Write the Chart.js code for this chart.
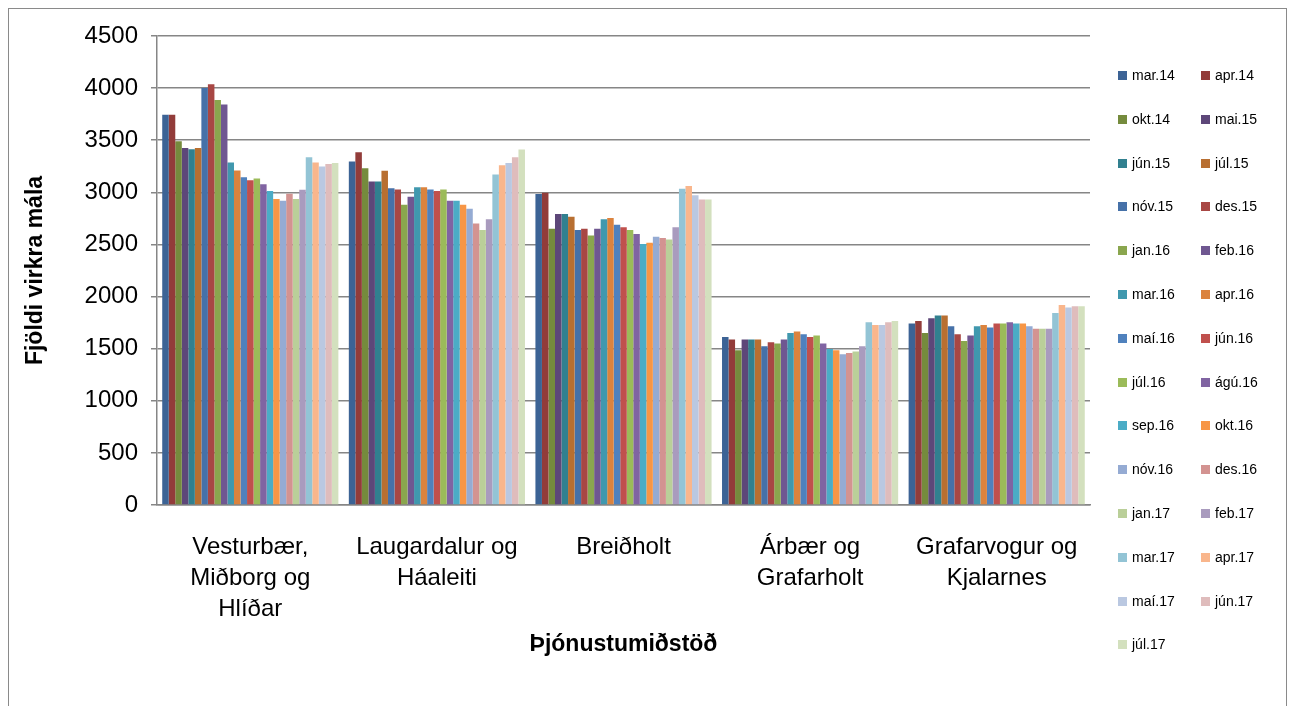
<!DOCTYPE html>
<html>
<head>
<meta charset="utf-8">
<script src="https://cdn.jsdelivr.net/npm/chart.js@4/dist/chart.umd.min.js"></script>
<style>
  body { margin: 0; background: #fff; }
  #wrap { position: relative; width: 1290px; height: 706px; overflow: hidden; }
  #frame { position: absolute; left: 8px; top: 8px; width: 1279px; height: 720px; border: 1px solid #8a8a8a; box-sizing: border-box; }
  canvas { position: absolute; left: 0; top: 0; }
  .item { position: absolute; font: 14px "Liberation Sans", Arial, sans-serif; color: #000; white-space: nowrap; line-height: 16px; }
  .item span { display: inline-block; width: 9px; height: 9px; margin-right: 5px; vertical-align: 0px; }
</style>
</head>
<body>
<div id="wrap">
  <div id="frame"></div>
  <canvas id="chart" width="1290" height="706"></canvas>
  <div id="legend"></div>
</div>
<script>
// categories (x axis)
const categories = [
  ["Vesturbær,", "Miðborg og", "Hlíðar"],
  ["Laugardalur og", "Háaleiti"],
  ["Breiðholt"],
  ["Árbær og", "Grafarholt"],
  ["Grafarvogur og", "Kjalarnes"]
];

// one series per month
const months = ["mar.14", "apr.14", "okt.14", "mai.15", "jún.15", "júl.15", "nóv.15", "des.15",
  "jan.16", "feb.16", "mar.16", "apr.16", "maí.16", "jún.16", "júl.16", "ágú.16", "sep.16",
  "okt.16", "nóv.16", "des.16", "jan.17", "feb.17", "mar.17", "apr.17", "maí.17", "jún.17", "júl.17"];

// values per area, in month order
const vesturbaer = [3744, 3744, 3490, 3426, 3414, 3426, 4000, 4038, 3885, 3843, 3286, 3209, 3145, 3116,
  3132, 3077, 3013, 2936, 2920, 2987, 2936, 3025, 3337, 3286, 3247, 3273, 3282];
const laugardalur = [3295, 3385, 3231, 3103, 3103, 3206, 3039, 3026, 2882, 2958, 3048, 3048, 3026, 3013,
  3026, 2920, 2920, 2882, 2843, 2702, 2638, 2741, 3170, 3260, 3282, 3337, 3410];
const breidholt = [2984, 2997, 2651, 2792, 2792, 2766, 2638, 2651, 2587, 2651, 2741, 2754, 2690, 2664,
  2638, 2600, 2504, 2517, 2574, 2561, 2548, 2664, 3035, 3061, 2971, 2932, 2932];
const arbaer = [1613, 1587, 1485, 1587, 1587, 1587, 1523, 1561, 1549, 1587, 1651, 1664, 1638, 1613,
  1626, 1549, 1497, 1485, 1446, 1459, 1472, 1523, 1754, 1728, 1728, 1754, 1766];
const grafarvogur = [1741, 1766, 1651, 1792, 1818, 1818, 1715, 1638, 1574, 1626, 1715, 1728, 1702, 1741,
  1741, 1754, 1741, 1741, 1715, 1690, 1690, 1690, 1843, 1920, 1894, 1907, 1907];

const colors = ["#3c6395", "#923c3a", "#758b3d", "#5d4779", "#31808f", "#b86f31",
  "#4671a8", "#a84744", "#8aa64e", "#6f5791", "#4098ae", "#db833e",
  "#4f81bd", "#c0504d", "#9bbb59", "#8064a2", "#4bacc6", "#f79646",
  "#95abd3", "#d39391", "#bacf99", "#a99bbe", "#93c4d5", "#f9b68c",
  "#bac8e1", "#dfbcbc", "#d3e0be"];

const areas = [vesturbaer, laugardalur, breidholt, arbaer, grafarvogur];

const datasets = months.map((m, i) => ({
  label: m,
  data: areas.map(a => a[i]),
  backgroundColor: colors[i],
  borderWidth: 0
}));

const font = { family: "'Liberation Sans', Arial, sans-serif", size: 24 };

const chart = new Chart(document.getElementById("chart"), {
  type: "bar",
  data: { labels: categories, datasets: datasets },
  options: {
    responsive: false,
    animation: false,
    layout: { padding: { left: 18, right: 200, top: 36, bottom: 44 } },
    datasets: { bar: { categoryPercentage: 0.944, barPercentage: 1 } },
    plugins: { legend: { display: false }, tooltip: { enabled: false } },
    scales: {
      x: {
        grid: { display: false },
        border: { color: "#868686", width: 1.5 },
        ticks: { font: { ...font, lineHeight: 1.29 }, color: "#000", padding: 19, maxRotation: 0, autoSkip: false },
        title: { display: true, text: "Þjónustumiðstöð", color: "#000",
          font: { family: font.family, size: 23, weight: "bold" }, padding: { top: 0, bottom: 4 } },
        afterFit(s) { s.height = 157; }
      },
      y: {
        min: 0, max: 4500,
        ticks: { stepSize: 500, font: font, color: "#000", padding: 13, callback: v => String(v) },
        grid: { color: "#868686", lineWidth: 1.5, tickLength: 6 },
        border: { color: "#868686", width: 1.5 },
        title: { display: true, text: "Fjöldi virkra mála", color: "#000",
          font: { family: font.family, size: 23, weight: "bold" }, padding: { top: 4, bottom: 0 } },
        afterFit(s) { s.width = 139; }
      }
    }
  }
});

// legend: two columns, row by row
const legend = document.getElementById("legend");
chart.data.datasets.forEach((ds, i) => {
  const row = Math.floor(i / 2), col = i % 2;
  const el = document.createElement("div");
  el.className = "item";
  el.style.left = (col ? 1201 : 1118) + "px";
  el.style.top = (75 + row * 43.8 - 8) + "px";
  el.innerHTML = '<span style="background:' + ds.backgroundColor + '"></span>' + ds.label;
  legend.appendChild(el);
});
</script>
</body>
</html>
